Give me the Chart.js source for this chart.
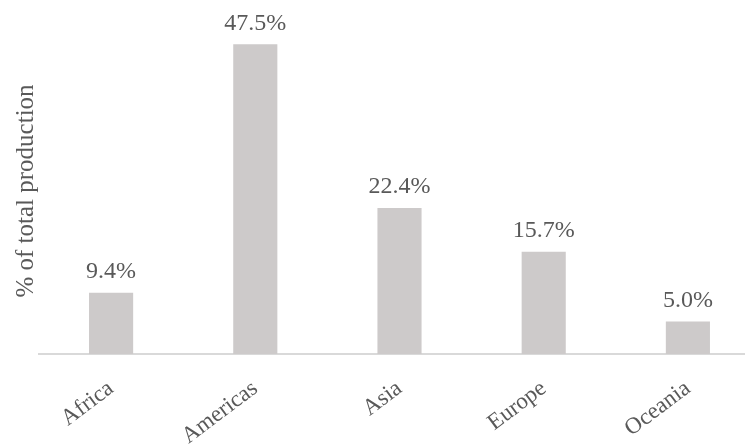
<!DOCTYPE html>
<html>
<head>
<meta charset="utf-8">
<script src="https://cdn.jsdelivr.net/npm/chart.js@4/dist/chart.umd.min.js"></script>
<style>
  html, body { margin: 0; padding: 0; background: #fff; overflow: hidden; }
  #wrap { width: 760px; height: 446px; position: relative; }
</style>
</head>
<body>
<div id="wrap"><canvas id="prod_chart"></canvas></div>
<script>
// regions and share of total production (%)
const regions = ['Africa', 'Americas', 'Asia', 'Europe', 'Oceania'];
const shares = [9.4, 47.5, 22.4, 15.7, 5.0];

const grey = '#595959';
const serif = '"Liberation Serif", "Times New Roman", serif';

// value labels above each bar
const barLabels = {
    id: 'barLabels',
    afterDatasetsDraw(chart) {
        const ctx = chart.ctx;
        const meta = chart.getDatasetMeta(0);
        ctx.save();
        ctx.font = '24px ' + serif;
        ctx.fillStyle = grey;
        ctx.textAlign = 'center';
        ctx.textBaseline = 'bottom';
        meta.data.forEach((bar, i) => {
            ctx.fillText(shares[i].toFixed(1) + '%', bar.x, bar.y - 9);
        });
        ctx.restore();
    }
};

var ctx = document.getElementById('prod_chart').getContext('2d');
var myChart = new Chart(ctx, {
    type: 'bar',
    data: {
        labels: regions,
        datasets: [{
            data: shares,
            backgroundColor: '#cdcaca',
            borderWidth: 0,
            barPercentage: 0.306,
            categoryPercentage: 1
        }]
    },
    options: {
        responsive: true,
        maintainAspectRatio: false,
        animation: false,
        layout: { padding: { top: 28, left: 0, right: 0, bottom: 0 } },
        plugins: {
            legend: { display: false },
            tooltip: { enabled: false }
        },
        scales: {
            x: {
                grid: { display: false },
                border: { display: true, color: '#d9d9d9', width: 2 },
                ticks: {
                    color: grey,
                    font: { family: serif, size: 23 },
                    minRotation: 37,
                    maxRotation: 37,
                    padding: 13
                },
                afterFit(scale) { scale.height = 92; }
            },
            y: {
                min: 0,
                max: 50,
                grid: { display: false },
                border: { display: false },
                ticks: { display: false },
                title: {
                    display: true,
                    text: '% of total production',
                    color: grey,
                    font: { family: serif, size: 25 },
                    padding: { top: 11, bottom: 0 }
                },
                afterFit(scale) { scale.width = 39; }
            }
        }
    },
    plugins: [barLabels]
});
</script>
</body>
</html>
